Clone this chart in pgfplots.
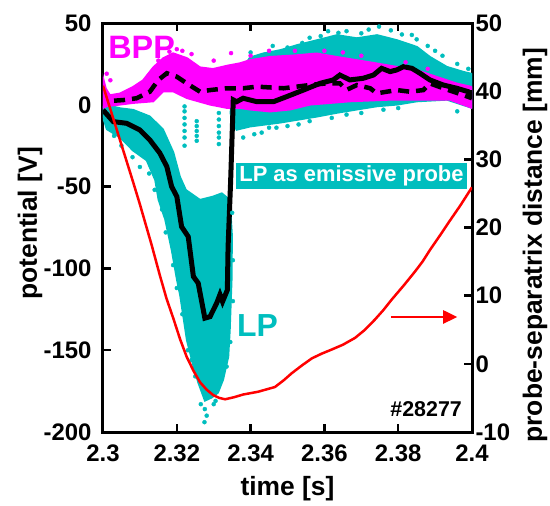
\documentclass[border=0pt]{standalone}
\usepackage{pgfplots}
\pgfplotsset{compat=1.18}
\usepackage{fontspec}
\setmainfont{Liberation Sans}
\usetikzlibrary{calc,arrows.meta}
\definecolor{lpcyan}{RGB}{0,190,190}
\definecolor{bppmag}{RGB}{255,0,255}
\definecolor{sepred}{RGB}{255,0,0}
\begin{document}
\begin{tikzpicture}
\pgfplotsset{
  every axis/.append style={
    width=369bp, height=409bp, scale only axis,
    xmin=2.3, xmax=2.4,
    axis line style={line width=3bp},
    tick style={line width=2.5bp, black},
    major tick length=8bp,
    tick align=inside,
    /pgf/number format/assume math mode=true,
    tick label style={font=\fontsize{24}{28}\selectfont\bfseries},
    label style={font=\fontsize{26.5}{30}\selectfont\bfseries},
  }
}
\begin{axis}[name=ax,
  ymin=-200, ymax=50,
  xtick={2.3,2.32,2.34,2.36,2.38,2.4},
  xticklabels={2.3,2.32,2.34,2.36,2.38,2.4},
  ytick={-200,-150,-100,-50,0,50},
  yticklabels={-200,-150,-100,-50,0,50},
  ytick pos=left, xtick pos=both, xticklabel pos=bottom,
  xticklabel style={yshift=-9bp},
  yticklabel style={xshift=-8bp},
  xlabel={time [s]}, ylabel={potential [V]},
  xlabel style={at={(axis description cs:0.5,-0.138)}, anchor=center},
  ylabel style={at={(axis description cs:-0.198,0.51)}, anchor=center},
]
% LP cloud (left part)
\addplot[fill=lpcyan, draw=lpcyan, line width=1.5bp] coordinates {
(2.3000,-1) (2.3010,0) (2.3046,-2) (2.3082,-3) (2.3127,-7) (2.3163,-15) (2.3191,-29)
(2.3209,-44) (2.3225,-52) (2.3263,-58) (2.3298,-56) (2.3322,-54) (2.3344,-58) (2.3350,-80)
(2.3349,-107) (2.3344,-138) (2.3340,-154) (2.3326,-168) (2.3312,-176) (2.3295,-179)
(2.3276,-181) (2.3258,-170) (2.3245,-160) (2.3227,-144) (2.3209,-117) (2.3200,-107)
(2.3186,-89) (2.3168,-70) (2.3150,-58) (2.3141,-46) (2.3118,-34) (2.3081,-28)
(2.3046,-20) (2.3010,-15) (2.3000,-8)
} -- cycle;
% LP band (right part)
\addplot[fill=lpcyan, draw=lpcyan, line width=1.5bp] coordinates {
(2.3345,-5) (2.3352,10) (2.3371,20) (2.3398,29) (2.3434,31.5) (2.3480,33.5) (2.3526,36.6)
(2.3580,39.6) (2.3634,42.7) (2.3688,40.8) (2.3743,42.7) (2.3797,39.6) (2.3851,35.5)
(2.3886,29.4) (2.3932,23.3) (2.3976,20.3) (2.4000,19)
(2.4000,-2) (2.3932,3) (2.3851,2) (2.3797,0) (2.3743,-1) (2.3688,-3) (2.3634,-5)
(2.3580,-7.3) (2.3526,-9.3) (2.3480,-11) (2.3398,-13.4) (2.3362,-15.4) (2.3352,-12)
} -- cycle;
% LP scattered points
\addplot[only marks, mark=*, mark size=2bp, color=lpcyan] coordinates {
(2.3221,-1) (2.3221,-4) (2.3221,-8) (2.3221,-12) (2.3221,-16) (2.3221,-20) (2.3221,-25)
(2.3254,-10) (2.3254,-13) (2.3254,-16) (2.3254,-19) (2.3254,-22)
(2.3314,-5) (2.3314,-9) (2.3314,-13) (2.3314,-17) (2.3314,-20) (2.3314,-24)
(2.3276,-186) (2.3281,-190) (2.3275,-194) (2.3265,-183) (2.3300,-183) (2.3305,-181)
(2.3270,-62) (2.3290,-60) (2.3300,-66) (2.3325,-58) (2.3280,-70) (2.3310,-62)
(2.3100,-38) (2.3140,-52) (2.3170,-78) (2.3200,-112) (2.3230,-150) (2.3080,-32) (2.3050,-25)
(2.3125,-42) (2.3160,-64) (2.3190,-98) (2.3215,-128) (2.3240,-156) (2.3030,-19)
(2.3250,-166) (2.3335,-160) (2.3345,-145) (2.3352,-120) (2.3352,-95) (2.3350,-66)
(2.3748,47.8) (2.3837,42.7) (2.3638,44) (2.3700,43.7) (2.3540,37.8) (2.3560,41)
(2.3460,36) (2.3880,36) (2.3920,30) (2.3960,25) (2.3400,32) (2.3610,45) (2.3780,45.5)
(2.3850,40) (2.3380,-20) (2.3430,-17) (2.3450,-14) (2.3500,-13) (2.3560,-10)
(2.3620,-8) (2.3700,-5) (2.3800,-2) (2.3960,-4)
(2.3500,35) (2.3590,42) (2.3660,45) (2.3720,46) (2.3810,43) (2.3900,33) (2.3990,22)
(2.3410,-18) (2.3470,-14) (2.3530,-12) (2.3660,-6) (2.3760,-3)
};
% BPP cloud
\addplot[fill=bppmag, draw=bppmag, line width=1.5bp] coordinates {
(2.3000,17) (2.3008,10) (2.3019,6) (2.3046,7) (2.3081,11) (2.3108,15) (2.3136,23)
(2.3163,28.6) (2.3190,31.6) (2.3228,28.6) (2.3263,23) (2.3298,22) (2.3336,24)
(2.3371,25.5) (2.3398,27.4) (2.3453,29.4) (2.3525,30.4) (2.3579,31.5) (2.3633,29.4)
(2.3688,27.4) (2.3742,25.4) (2.3796,23.3) (2.3850,21.3) (2.3904,17.2) (2.3959,13.1)
(2.4000,11)
(2.4000,-2) (2.3940,3) (2.3778,3) (2.3669,2) (2.3615,1) (2.3561,0) (2.3507,-3)
(2.3453,-4.2) (2.3398,-3) (2.3371,-2) (2.3335,-2) (2.3290,0) (2.3227,4) (2.3191,8)
(2.3163,8) (2.3136,2) (2.3081,1) (2.3046,0) (2.3010,-1) (2.3000,-2)
} -- cycle;
\addplot[only marks, mark=*, mark size=2bp, color=bppmag] coordinates {
(2.3200,34) (2.3180,32.5) (2.3215,33) (2.3347,31.6) (2.3300,27) (2.3450,33)
(2.3520,33) (2.3600,33) (2.3010,19) (2.3020,15) (2.3150,27) (2.3240,31)
(2.3400,30) (2.3650,32) (2.3700,30) (2.3820,26) (2.3880,22)
};
% BPP smoothed (dashed)
\addplot[black, line width=4.5bp, dash pattern=on 11bp off 7bp] coordinates {
(2.3030,2.5) (2.3055,2.9) (2.3091,4) (2.3127,8) (2.3150,15.2) (2.3173,19.3) (2.3200,17.2)
(2.3227,13.1) (2.3263,8) (2.3290,9) (2.3335,10.1) (2.3380,10.1) (2.3417,11.1)
(2.3489,10.1) (2.3525,11.1) (2.3561,12.1) (2.3606,13.1) (2.3642,13.1) (2.3660,9.1)
(2.3688,12.1) (2.3724,10.1) (2.3742,7) (2.3796,9) (2.3832,8) (2.3868,9) (2.3886,13.1)
(2.3922,10.1) (2.3976,6) (2.4000,4)
};
% LP smoothed (solid)
\addplot[black, line width=5bp] coordinates {
(2.3000,-3.2) (2.3028,-10.3) (2.3064,-11.3) (2.3100,-15.4) (2.3127,-21.5) (2.3154,-29.5)
(2.3173,-37.8) (2.3186,-50) (2.3200,-56) (2.3213,-74.5) (2.3231,-80.6) (2.3245,-105)
(2.3258,-109) (2.3276,-130.4) (2.3290,-129.5) (2.3308,-121.3) (2.3317,-116) (2.3324,-120.3)
(2.3337,-113.2) (2.3339,-86.7) (2.3346,-46) (2.3353,3) (2.3362,1.9) (2.3380,4)
(2.3417,1.9) (2.3462,1.9) (2.3498,5) (2.3543,9) (2.3588,13.1) (2.3624,15.2) (2.3642,18.2)
(2.3669,15.2) (2.3705,16.2) (2.3733,18.2) (2.3755,22.3) (2.3778,20.3) (2.3796,21.3)
(2.3814,23.3) (2.3837,22.3) (2.3859,19.3) (2.3886,15.2) (2.3922,12.1) (2.3959,10.1)
(2.3990,8) (2.4000,5)
};
\node[anchor=base west, inner sep=0, text=bppmag, font=\fontsize{32.5}{36}\selectfont\bfseries] at (axis cs:2.3014,28.6) {BPP};
\node[anchor=base west, inner sep=0, text=lpcyan, font=\fontsize{32}{36}\selectfont\bfseries] at (axis cs:2.3363,-141.9) {LP};
\node[fill=lpcyan, text=white, inner sep=0, minimum width=231bp, minimum height=26bp, anchor=center, font=\fontsize{22}{26}\selectfont\bfseries] at (axis cs:2.36734,-43.5) {LP as emissive probe};
\node[anchor=base east, inner sep=0, font=\fontsize{21.5}{24}\selectfont\bfseries] at (axis cs:2.3973,-190.8) {\#28277};
\draw[sepred, line width=2.5bp, -{Triangle[length=14bp,width=13bp]}] (axis cs:2.3780,-129.7) -- (axis cs:2.3960,-129.7);
\end{axis}
\begin{axis}[
  ymin=-10, ymax=50,
  hide x axis,
  axis line style={draw=none},
  ytick={-10,0,10,20,30,40,50},
  yticklabels={-10,0,10,20,30,40,50},
  ytick pos=right, yticklabel pos=right,
  ylabel={probe-separatrix distance [mm]},
  ylabel style={at={(axis description cs:1.1707,0.457)}, anchor=center},
]
\addplot[sepred, line width=2.5bp] coordinates {
(2.3000,40.8) (2.3041,33.7) (2.3082,26.6) (2.3100,23.4) (2.3116,20.4) (2.3132,17.4)
(2.3154,13.0) (2.3172,9.6) (2.3191,6.6) (2.3209,3.6) (2.3227,1.0) (2.3245,-1.0)
(2.3263,-2.7) (2.3281,-3.8) (2.3299,-4.6) (2.3315,-5.0) (2.3331,-5.2) (2.3355,-4.9)
(2.3380,-4.5) (2.3420,-4.1) (2.3466,-3.4) (2.3490,-2.4) (2.3511,-1.4) (2.3540,-0.2)
(2.3566,0.8) (2.3593,1.5) (2.3620,2.1) (2.3650,2.8) (2.3683,3.8) (2.3710,5.0)
(2.3737,6.5) (2.3760,7.9) (2.3782,9.4) (2.3815,11.5) (2.3845,13.5) (2.3866,15.0)
(2.3886,16.7) (2.3914,18.9) (2.3940,21.0) (2.3968,23.2) (2.4000,25.9)
};
\end{axis}
\pgfresetboundingbox
\path ($(ax.south west)+(-103bp,-74bp)$) rectangle ($(ax.north east)+(78bp,23bp)$);
\end{tikzpicture}
\end{document}
